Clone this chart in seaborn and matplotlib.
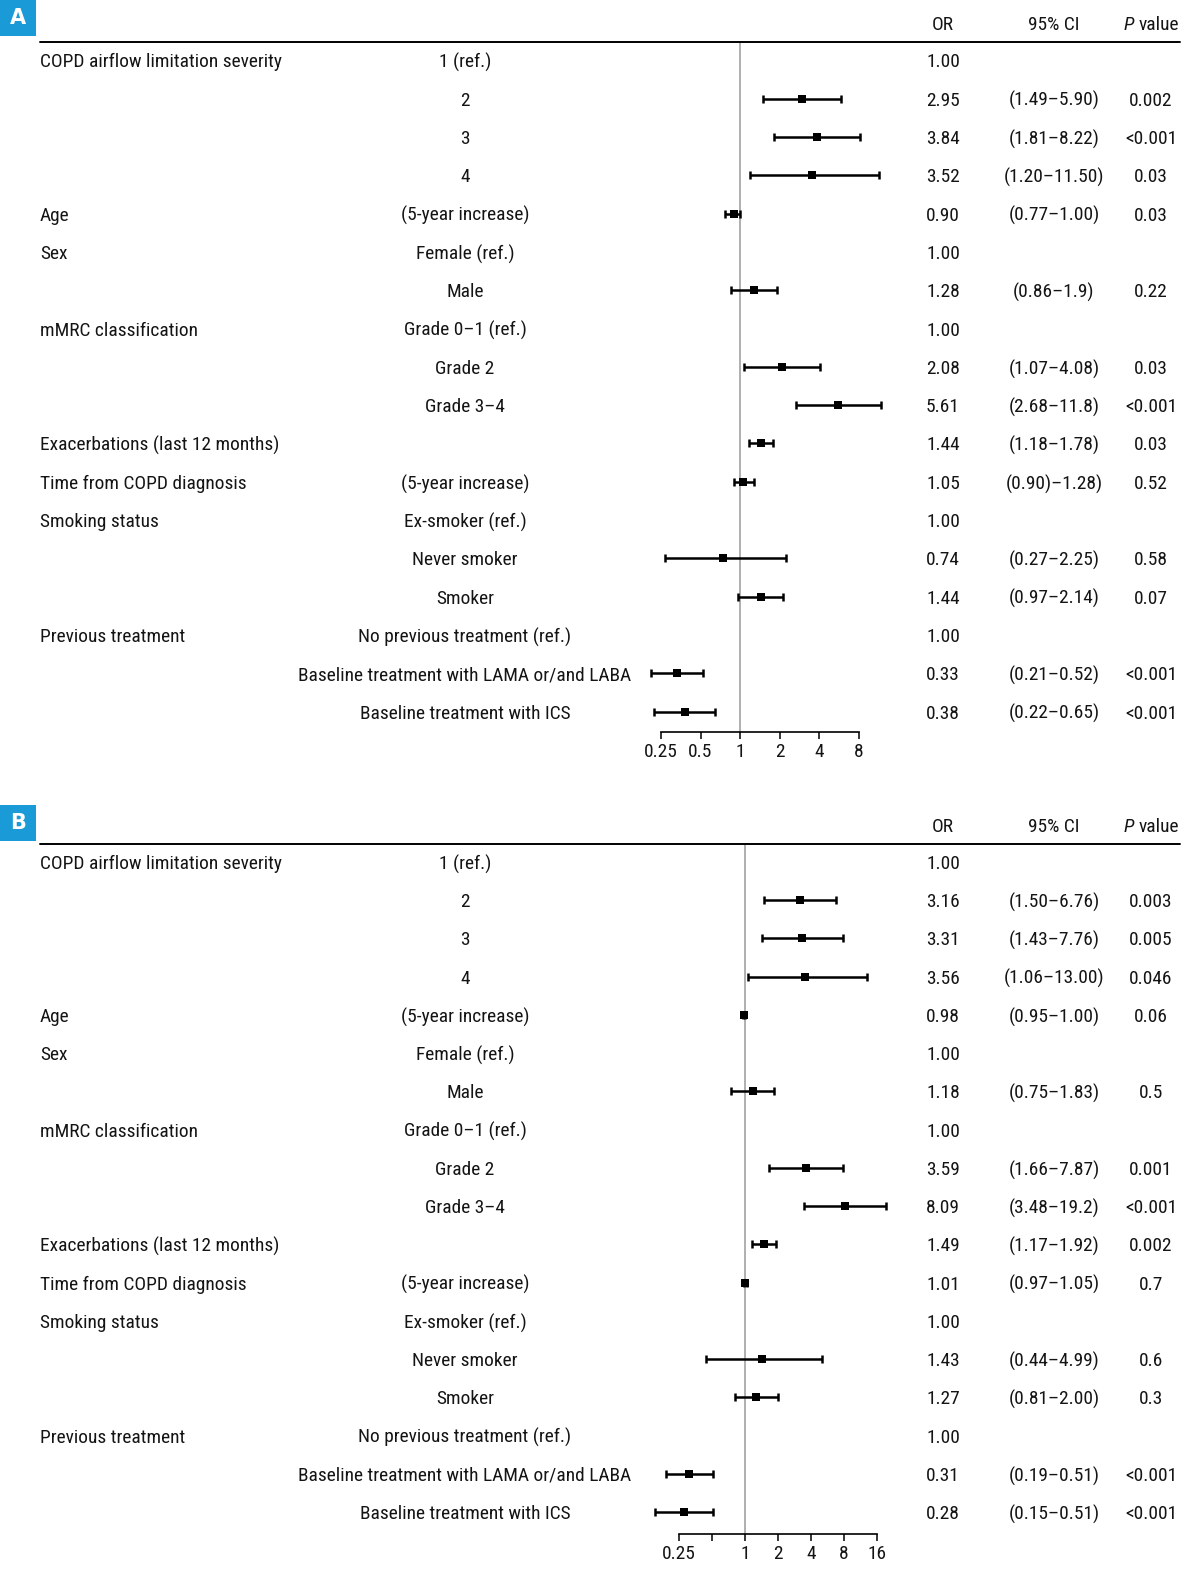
import numpy as np
import pandas as pd
import matplotlib.pyplot as plt
import matplotlib.transforms as mtransforms
from matplotlib import font_manager as fm
from matplotlib.patches import Rectangle
import seaborn as sns

# ---- data ----
groups = ["COPD airflow limitation severity", "", "", "", "Age", "Sex", "",
          "mMRC classification", "", "", "Exacerbations (last 12 months)",
          "Time from COPD diagnosis", "Smoking status", "", "",
          "Previous treatment", "", ""]
levels = ["1 (ref.)", "2", "3", "4", "(5-year increase)", "Female (ref.)", "Male",
          "Grade 0\u20131 (ref.)", "Grade 2", "Grade 3\u20134", "",
          "(5-year increase)", "Ex-smoker (ref.)", "Never smoker", "Smoker",
          "No previous treatment (ref.)",
          "Baseline treatment with LAMA or/and LABA", "Baseline treatment with ICS"]

# panel A
or_a = [1.00, 2.95, 3.84, 3.52, 0.90, 1.00, 1.28, 1.00, 2.08, 5.61, 1.44, 1.05,
        1.00, 0.74, 1.44, 1.00, 0.33, 0.38]
lo_a = [np.nan, 1.49, 1.81, 1.20, 0.77, np.nan, 0.86, np.nan, 1.07, 2.68, 1.18, 0.90,
        np.nan, 0.27, 0.97, np.nan, 0.21, 0.22]
hi_a = [np.nan, 5.90, 8.22, 11.50, 1.00, np.nan, 1.9, np.nan, 4.08, 11.8, 1.78, 1.28,
        np.nan, 2.25, 2.14, np.nan, 0.52, 0.65]
ci_a = ["", "(1.49\u20135.90)", "(1.81\u20138.22)", "(1.20\u201311.50)", "(0.77\u20131.00)", "",
        "(0.86\u20131.9)", "", "(1.07\u20134.08)", "(2.68\u201311.8)", "(1.18\u20131.78)",
        "(0.90)\u20131.28)", "", "(0.27\u20132.25)", "(0.97\u20132.14)", "",
        "(0.21\u20130.52)", "(0.22\u20130.65)"]
p_a = ["", "0.002", "<0.001", "0.03", "0.03", "", "0.22", "", "0.03", "<0.001", "0.03",
       "0.52", "", "0.58", "0.07", "", "<0.001", "<0.001"]

# panel B
or_b = [1.00, 3.16, 3.31, 3.56, 0.98, 1.00, 1.18, 1.00, 3.59, 8.09, 1.49, 1.01,
        1.00, 1.43, 1.27, 1.00, 0.31, 0.28]
lo_b = [np.nan, 1.50, 1.43, 1.06, 0.95, np.nan, 0.75, np.nan, 1.66, 3.48, 1.17, 0.97,
        np.nan, 0.44, 0.81, np.nan, 0.19, 0.15]
hi_b = [np.nan, 6.76, 7.76, 13.00, 1.00, np.nan, 1.83, np.nan, 7.87, 19.2, 1.92, 1.05,
        np.nan, 4.99, 2.00, np.nan, 0.51, 0.51]
ci_b = ["", "(1.50\u20136.76)", "(1.43\u20137.76)", "(1.06\u201313.00)", "(0.95\u20131.00)", "",
        "(0.75\u20131.83)", "", "(1.66\u20137.87)", "(3.48\u201319.2)", "(1.17\u20131.92)",
        "(0.97\u20131.05)", "", "(0.44\u20134.99)", "(0.81\u20132.00)", "",
        "(0.19\u20130.51)", "(0.15\u20130.51)"]
p_b = ["", "0.003", "0.005", "0.046", "0.06", "", "0.5", "", "0.001", "<0.001", "0.002",
       "0.7", "", "0.6", "0.3", "", "<0.001", "<0.001"]

ticks_a = [0.25, 0.5, 1, 2, 4, 8]
tick_labels_a = ["0.25", "0.5", "1", "2", "4", "8"]
ticks_b = [0.25, 0.5, 1, 2, 4, 8, 16]
tick_labels_b = ["0.25", "", "1", "2", "4", "8", "16"]

# ---- style ----
sns.set_theme(style="ticks")

# pick the narrowest sans available (reference uses a condensed face)
avail = {(f.name, f.stretch) for f in fm.fontManager.ttflist}
names = {n for n, _ in avail}
stretch = "normal"
if "Liberation Sans Narrow" in names:
    family = "Liberation Sans Narrow"
elif "Roboto Condensed" in names:
    family = "Roboto Condensed"
elif any(n == "DejaVu Sans" and s in ("condensed", 75, "semi-condensed") for n, s in avail):
    family, stretch = "DejaVu Sans", "condensed"
elif "Roboto" in names:
    family = "Roboto"
else:
    family = "Liberation Sans"
plt.rcParams['font.family'] = [family, 'DejaVu Sans']
plt.rcParams['font.stretch'] = stretch

TXT = "#141414"
W, H = 1198, 1579

fig = plt.figure(figsize=(W / 100, H / 100), dpi=100)

# scale font so the long labels are about as wide as in the reference
probe = fig.text(0, 0, "COPD airflow limitation severity", fontsize=14)
w14 = probe.get_window_extent(renderer=fig.canvas.get_renderer()).width
probe.remove()
FS = min(15.5, 14 * 243 / w14)


def draw_panel(letter, orv, lo, hi, ci, pv, ticks, tlabels, box_top, line_y,
               row0, step, axis_y, px_one, px_doubling):
    # forest axes spans x pixels 620..900, y from the header line to the axis
    x0, x1 = 620, 900
    ax = fig.add_axes([x0 / W, 1 - axis_y / H, (x1 - x0) / W, (axis_y - line_y) / H])
    ax.set_xscale('log', base=2)
    ax.set_xlim(2 ** ((x0 - px_one) / px_doubling), 2 ** ((x1 - px_one) / px_doubling))
    ax.set_ylim((axis_y - row0) / step, (line_y - row0) / step)
    ax.patch.set_alpha(0)

    df = pd.DataFrame({"row": np.arange(len(orv)), "or": orv, "lo": lo, "hi": hi})
    est = df.dropna()
    ax.axvline(1, color="#9a9a9a", lw=1.1, zorder=1)
    ax.errorbar(est["or"], est["row"],
                xerr=[est["or"] - est["lo"], est["hi"] - est["or"]],
                fmt="none", ecolor="black", elinewidth=1.8, capsize=3, capthick=1.8,
                zorder=2)
    sns.scatterplot(data=est, x="or", y="row", marker="s", s=28, color="black",
                    edgecolor="black", linewidth=0, ax=ax, legend=False, zorder=3)

    for s in ["top", "left", "right"]:
        ax.spines[s].set_visible(False)
    ax.spines["bottom"].set_bounds(ticks[0], ticks[-1])
    ax.spines["bottom"].set_linewidth(1.2)
    ax.spines["bottom"].set_color("black")
    ax.set_xticks(ticks)
    ax.set_xticklabels(tlabels)
    ax.xaxis.set_minor_locator(plt.NullLocator())
    ax.set_yticks([])
    ax.tick_params(axis="x", direction="out", length=5, width=1.1, color="black",
                   labelsize=FS, labelcolor=TXT, pad=3)
    ax.set_xlabel("")
    ax.set_ylabel("")

    tr = mtransforms.blended_transform_factory(fig.transFigure, ax.transData)
    kw = dict(transform=tr, va="center_baseline", fontsize=FS, color=TXT, clip_on=False)
    for i in range(len(orv)):
        ax.text(40 / W, i, groups[i], ha="left", **kw)
        ax.text(465 / W, i, levels[i], ha="center", **kw)
        ax.text(943 / W, i, f"{orv[i]:.2f}", ha="center", **kw)
        ax.text(1054 / W, i, ci[i], ha="center", **kw)
        ax.text(1151 / W, i, pv[i], ha="center", **kw)

    # header
    hy = 1 - (line_y - 19) / H
    hk = dict(va="center_baseline", fontsize=FS, color=TXT)
    fig.text(943 / W, hy, "OR", ha="center", **hk)
    fig.text(1054 / W, hy, "95% CI", ha="center", **hk)
    fig.text(1134 / W, hy, "P", ha="right", style="italic", **hk)
    fig.text(1139 / W, hy, "value", ha="left", **hk)
    fig.add_artist(plt.Line2D([40 / W, 1180 / W], [1 - line_y / H] * 2,
                              transform=fig.transFigure, color="black", lw=1.4))

    # panel letter box
    fig.patches.append(Rectangle((0, 1 - (box_top + 36) / H), 36 / W, 36 / H,
                                 transform=fig.transFigure, facecolor="#1a9ad6",
                                 edgecolor="none", figure=fig))
    fig.text(18 / W, 1 - (box_top + 18) / H, letter, ha="center", va="center",
             fontsize=15, fontweight="bold", color="white", family="DejaVu Sans",
             stretch="normal")


draw_panel("A", or_a, lo_a, hi_a, ci_a, p_a, ticks_a, tick_labels_a,
           box_top=0, line_y=41.5, row0=60.4, step=38.31, axis_y=732,
           px_one=740, px_doubling=39.5)
draw_panel("B", or_b, lo_b, hi_b, ci_b, p_b, ticks_b, tick_labels_b,
           box_top=805, line_y=843.6, row0=861.8, step=38.25, axis_y=1534,
           px_one=745, px_doubling=33)

fig.savefig("out.png", dpi=100, facecolor="white")
